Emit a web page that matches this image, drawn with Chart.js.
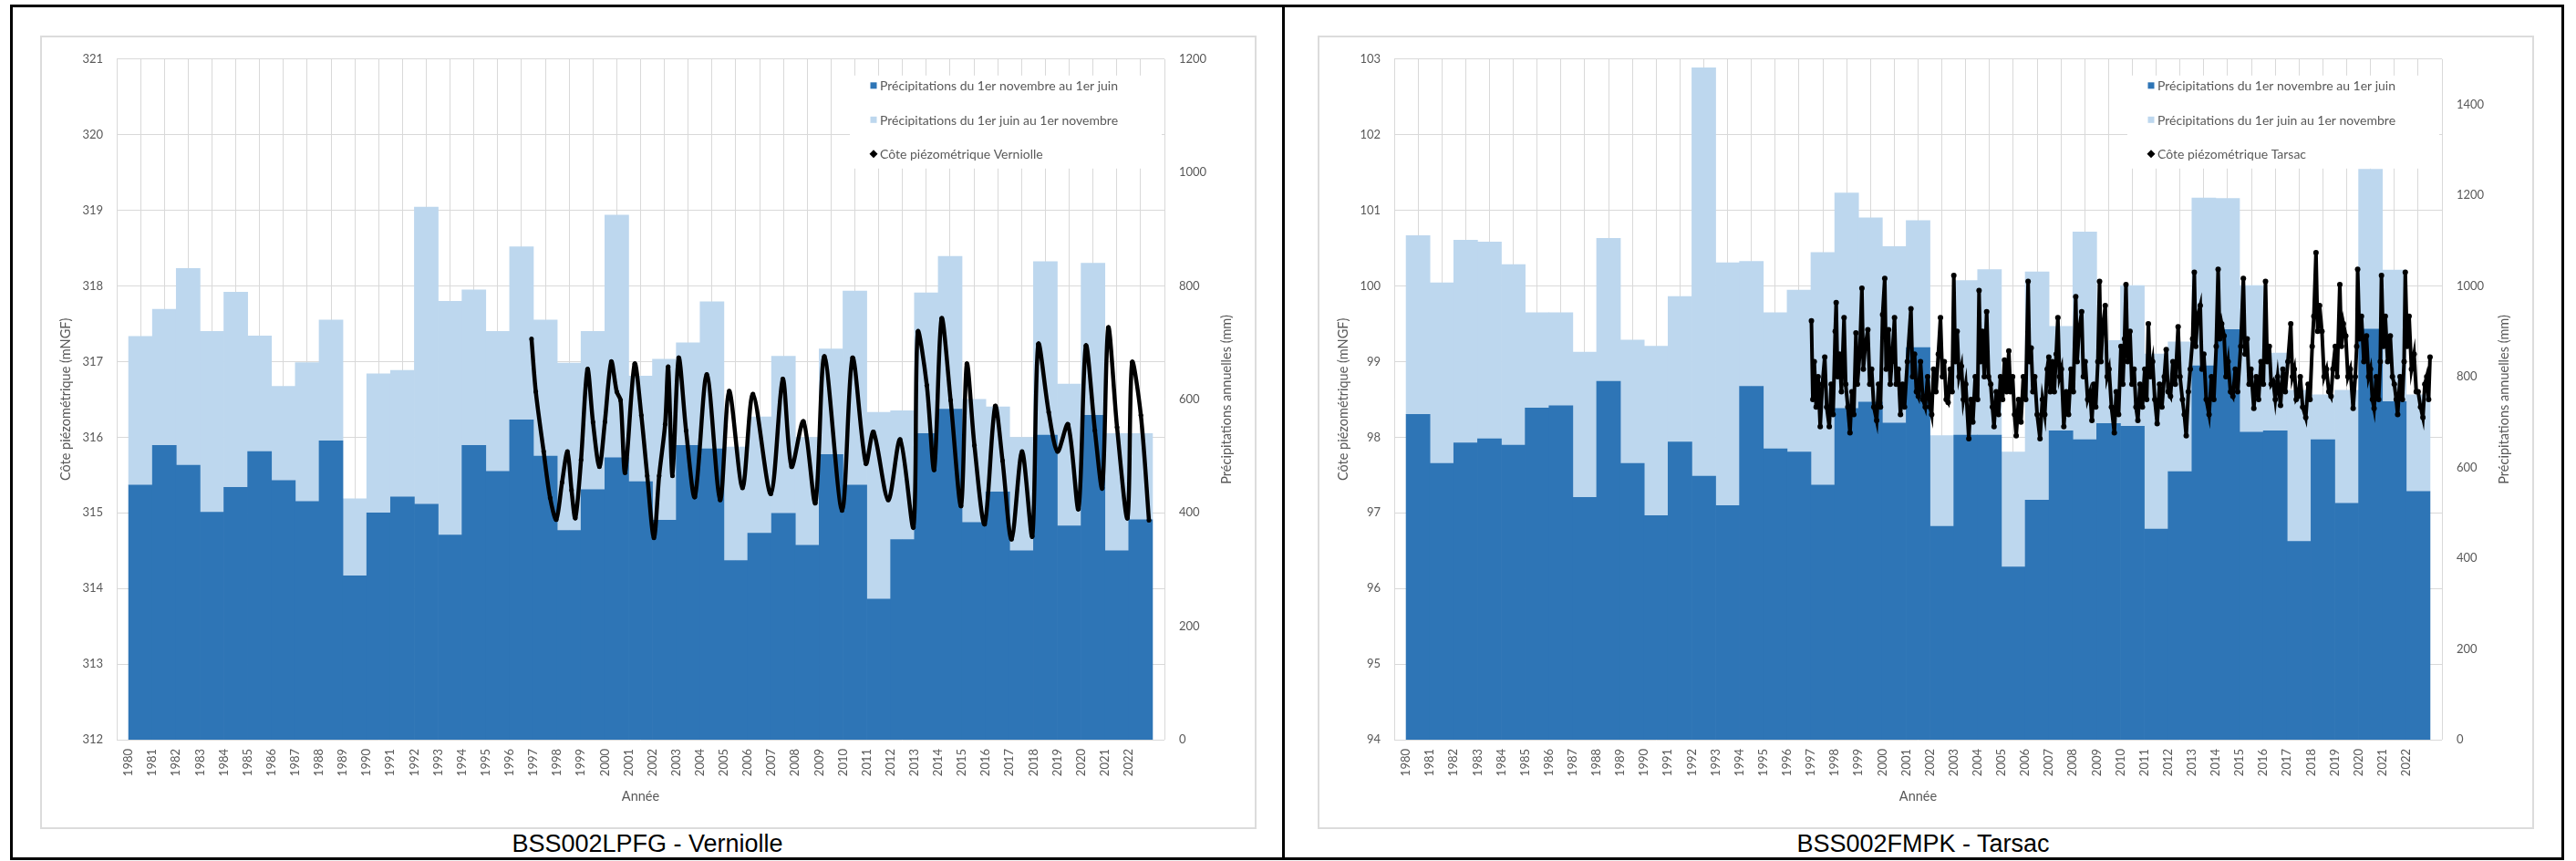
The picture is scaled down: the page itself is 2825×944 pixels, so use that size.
<!DOCTYPE html>
<html lang="fr">
<head>
<meta charset="utf-8">
<title>Précipitations et côte piézométrique</title>
<script src="https://cdn.jsdelivr.net/npm/chart.js@4.4.1/dist/chart.umd.min.js"></script>
<style>
  html, body { margin: 0; padding: 0; background: #fff; }
  body { width: 2825px; height: 944px; position: relative; overflow: hidden; }
  .outer { position: absolute; left: 11px; top: 5px; width: 2801px; height: 938px; border: 3px solid #000; box-sizing: border-box; }
  .divider { position: absolute; left: 1406px; top: 5px; width: 3px; height: 938px; background: #000; }
  .frame { position: absolute; top: 39px; width: 1334px; height: 870px; border: 2px solid #dcdcdc; box-sizing: border-box; background: #fff; }
  .frame canvas { position: absolute; left: 0; top: 0; filter: blur(0.6px); }
  .cap { position: absolute; top: 912px; font: 27px "Liberation Sans", Arial, sans-serif; line-height: 27px; text-align: center; color: #000; }
</style>
</head>
<body>
<div class="outer"></div>
<div class="divider"></div>
<div class="frame" style="left:44px"><canvas id="verniolle" width="1330" height="866"></canvas></div>
<div class="frame" style="left:1445px"><canvas id="tarsac" width="1330" height="866"></canvas></div>
<div class="cap" style="left:14px;width:1392px">BSS002LPFG - Verniolle</div>
<div class="cap" style="left:1409px;width:1400px">BSS002FMPK - Tarsac</div>

<script>
// hydrological years shown on the x axis
const years = [1980, 1981, 1982, 1983, 1984, 1985, 1986, 1987, 1988, 1989,
  1990, 1991, 1992, 1993, 1994, 1995, 1996, 1997, 1998, 1999,
  2000, 2001, 2002, 2003, 2004, 2005, 2006, 2007, 2008, 2009,
  2010, 2011, 2012, 2013, 2014, 2015, 2016, 2017, 2018, 2019,
  2020, 2021, 2022];

// Verniolle rainfall (mm): 1 Nov -> 1 Jun, then 1 Jun -> 1 Nov
const vernNovJun = [449, 519, 484, 401, 445, 508, 457, 420, 527, 289,
  400, 428, 415, 361, 519, 473, 564, 500, 369, 441,
  497, 455, 387, 519, 513, 316, 364, 399, 343, 503,
  449, 248, 353, 540, 583, 383, 437, 333, 537, 377,
  572, 333, 388];
const vernJunNov = [262, 240, 347, 319, 344, 204, 166, 245, 213, 136,
  245, 223, 524, 412, 274, 247, 305, 240, 295, 279,
  428, 186, 284, 181, 259, 200, 205, 277, 190, 186,
  342, 329, 227, 248, 269, 217, 150, 200, 306, 250,
  268, 207, 152];

// Tarsac rainfall (mm)
const tarsNovJun = [717, 609, 654, 663, 649, 731, 736, 534, 790, 609,
  494, 656, 581, 516, 779, 641, 634, 561, 730, 744,
  698, 864, 470, 671, 671, 381, 528, 681, 661, 697,
  691, 464, 591, 824, 904, 678, 681, 437, 661, 521,
  905, 745, 547];
const tarsJunNov = [394, 398, 447, 434, 398, 210, 205, 320, 315, 272,
  373, 321, 900, 535, 275, 300, 357, 513, 475, 406,
  389, 280, 200, 341, 365, 253, 503, 230, 458, 183,
  310, 386, 286, 370, 289, 323, 171, 333, 99, 249,
  352, 290, 213];

// piezometric level (m NGF) : [decimal date, level]
const vernPiezo = [
  [1996.92, 317.30], [1997.10, 316.60], [1997.43, 315.81], [1997.70, 315.20], [1997.96, 314.91],
  [1998.20, 315.40], [1998.43, 315.81], [1998.60, 315.30], [1998.76, 314.93], [1999.00, 315.70],
  [1999.27, 316.90], [1999.50, 316.20], [1999.77, 315.61], [2000.00, 316.20], [2000.27, 317.00],
  [2000.50, 316.60], [2000.66, 316.49], [2000.85, 315.53], [2001.25, 316.97], [2001.53, 316.29],
  [2001.78, 315.49], [2002.06, 314.67], [2002.28, 315.49], [2002.53, 316.17], [2002.66, 316.93],
  [2002.84, 315.49], [2003.10, 317.05], [2003.41, 316.09], [2003.78, 315.21], [2004.28, 316.83],
  [2004.84, 315.17], [2005.22, 316.61], [2005.78, 315.33], [2006.22, 316.57], [2006.97, 315.25],
  [2007.47, 316.77], [2007.84, 315.61], [2008.34, 316.21], [2008.84, 315.13], [2009.22, 317.07],
  [2009.96, 315.03], [2010.40, 317.05], [2010.96, 315.65], [2011.28, 316.07], [2011.90, 315.17],
  [2012.40, 315.97], [2012.96, 314.81], [2013.14, 317.39], [2013.52, 316.69], [2013.83, 315.57],
  [2014.14, 317.57], [2014.52, 316.49], [2014.96, 315.09], [2015.20, 316.97], [2015.52, 315.89],
  [2015.95, 314.85], [2016.39, 316.41], [2016.70, 315.69], [2017.08, 314.65], [2017.52, 315.81],
  [2017.95, 314.69], [2018.20, 317.23], [2018.64, 316.33], [2019.01, 315.81], [2019.45, 316.17],
  [2019.89, 315.05], [2020.20, 317.21], [2020.58, 316.09], [2020.89, 315.33], [2021.14, 317.45],
  [2021.51, 316.13], [2021.95, 314.93], [2022.14, 316.99], [2022.51, 316.29], [2022.85, 314.90]
];

const tarsPiezo = [
  [1997.02, 99.54], [1997.08, 98.50], [1997.14, 99.00], [1997.22, 98.40], [1997.30, 98.80], [1997.39, 98.14],
  [1997.48, 98.70], [1997.58, 99.06], [1997.66, 98.40], [1997.77, 98.14], [1997.85, 98.70], [1997.93, 98.30],
  [1998.02, 99.40], [1998.06, 99.78], [1998.12, 98.80], [1998.20, 99.10], [1998.28, 98.60], [1998.39, 99.58],
  [1998.46, 98.70], [1998.55, 98.40], [1998.64, 98.06], [1998.72, 98.60], [1998.80, 98.30], [1998.89, 99.38],
  [1998.95, 98.70], [1999.05, 99.10], [1999.14, 99.97], [1999.20, 98.90], [1999.28, 99.20], [1999.39, 99.42],
  [1999.47, 98.70], [1999.55, 98.90], [1999.64, 98.40], [1999.76, 98.22], [1999.84, 98.70], [1999.92, 98.40],
  [2000.01, 99.62], [2000.10, 100.10], [2000.16, 98.90], [2000.26, 99.42], [2000.33, 98.70], [2000.40, 99.00],
  [2000.51, 99.58], [2000.58, 98.70], [2000.67, 98.90], [2000.76, 98.30], [2000.85, 98.70], [2000.93, 98.40],
  [2001.05, 99.00], [2001.20, 99.70], [2001.27, 98.80], [2001.35, 99.10], [2001.43, 98.60], [2001.51, 98.54],
  [2001.60, 99.00], [2001.70, 98.50], [2001.80, 98.40], [2001.90, 98.80], [2002.00, 98.40], [2002.07, 98.30],
  [2002.15, 98.90], [2002.25, 98.60], [2002.35, 99.10], [2002.44, 99.58], [2002.52, 98.80], [2002.60, 99.00],
  [2002.68, 98.50], [2002.76, 98.46], [2002.85, 98.90], [2002.93, 98.60], [2003.00, 100.14], [2003.06, 99.00],
  [2003.14, 99.40], [2003.22, 98.80], [2003.32, 98.94], [2003.40, 98.50], [2003.50, 98.70], [2003.63, 97.98],
  [2003.72, 98.50], [2003.80, 98.20], [2003.90, 98.80], [2004.00, 98.50], [2004.06, 99.94], [2004.12, 99.00],
  [2004.20, 99.40], [2004.28, 98.80], [2004.38, 99.66], [2004.46, 98.80], [2004.55, 98.70], [2004.62, 98.40],
  [2004.69, 98.14], [2004.78, 98.60], [2004.88, 98.30], [2004.96, 98.80], [2005.05, 98.50], [2005.13, 99.02],
  [2005.22, 98.60], [2005.31, 99.14], [2005.38, 98.60], [2005.47, 98.80], [2005.55, 98.30], [2005.62, 98.02],
  [2005.72, 98.50], [2005.82, 98.20], [2005.92, 98.80], [2006.02, 98.50], [2006.12, 100.06], [2006.18, 99.00],
  [2006.25, 99.18], [2006.32, 98.60], [2006.40, 98.80], [2006.50, 98.30], [2006.62, 97.98], [2006.72, 98.50],
  [2006.82, 98.30], [2006.92, 98.90], [2006.99, 99.06], [2007.05, 98.60], [2007.13, 99.00], [2007.22, 98.60],
  [2007.30, 99.10], [2007.37, 99.58], [2007.44, 98.80], [2007.52, 98.90], [2007.62, 98.14], [2007.72, 98.60],
  [2007.82, 98.30], [2007.92, 98.90], [2008.02, 98.60], [2008.12, 99.86], [2008.18, 99.00], [2008.26, 99.42],
  [2008.37, 99.66], [2008.44, 98.80], [2008.52, 99.00], [2008.62, 98.50], [2008.72, 98.60], [2008.80, 98.22],
  [2008.88, 98.70], [2008.96, 98.40], [2009.05, 99.00], [2009.12, 100.06], [2009.18, 99.00], [2009.25, 99.42],
  [2009.36, 99.74], [2009.44, 98.80], [2009.52, 98.90], [2009.62, 98.40], [2009.74, 98.06], [2009.82, 98.60],
  [2009.92, 98.30], [2010.02, 99.20], [2010.10, 98.70], [2010.17, 99.30], [2010.23, 100.02], [2010.30, 99.00],
  [2010.40, 99.40], [2010.48, 98.70], [2010.57, 98.90], [2010.65, 98.40], [2010.73, 98.22], [2010.82, 98.70],
  [2010.92, 98.40], [2011.02, 98.90], [2011.10, 98.50], [2011.17, 99.50], [2011.25, 98.80], [2011.35, 99.00],
  [2011.44, 98.50], [2011.54, 98.18], [2011.64, 98.70], [2011.74, 98.40], [2011.84, 98.80], [2011.92, 99.16],
  [2012.00, 98.60], [2012.10, 98.54], [2012.20, 99.00], [2012.30, 98.70], [2012.42, 99.46], [2012.50, 98.80],
  [2012.60, 98.50], [2012.68, 98.30], [2012.76, 98.02], [2012.85, 98.60], [2012.93, 98.90], [2013.03, 99.30],
  [2013.10, 100.18], [2013.16, 99.20], [2013.24, 99.60], [2013.35, 99.74], [2013.42, 98.90], [2013.50, 99.10],
  [2013.60, 98.50], [2013.72, 98.30], [2013.82, 98.80], [2013.92, 98.50], [2014.02, 99.20], [2014.10, 100.22],
  [2014.17, 99.30], [2014.25, 99.50], [2014.35, 99.34], [2014.43, 98.80], [2014.52, 99.00], [2014.62, 98.60],
  [2014.72, 98.54], [2014.82, 98.90], [2014.92, 98.60], [2015.05, 99.20], [2015.16, 100.10], [2015.23, 99.10],
  [2015.32, 99.30], [2015.40, 98.70], [2015.48, 98.90], [2015.60, 98.38], [2015.70, 98.80], [2015.80, 98.50],
  [2015.90, 99.00], [2016.00, 98.70], [2016.09, 100.06], [2016.16, 99.00], [2016.25, 99.20], [2016.33, 98.70],
  [2016.41, 98.74], [2016.50, 98.50], [2016.60, 98.80], [2016.72, 98.42], [2016.82, 98.90], [2016.92, 98.60],
  [2017.03, 99.00], [2017.15, 99.50], [2017.22, 98.80], [2017.30, 98.90], [2017.38, 98.50], [2017.47, 98.54],
  [2017.55, 98.80], [2017.65, 98.40], [2017.78, 98.26], [2017.88, 98.70], [2017.96, 98.50], [2018.05, 99.20],
  [2018.12, 99.60], [2018.21, 100.44], [2018.28, 99.40], [2018.36, 99.74], [2018.46, 99.40], [2018.55, 98.80],
  [2018.65, 98.90], [2018.75, 98.60], [2018.84, 98.54], [2018.92, 98.90], [2019.02, 99.20], [2019.10, 98.80],
  [2019.21, 100.02], [2019.28, 99.20], [2019.36, 99.50], [2019.46, 99.34], [2019.55, 98.80], [2019.65, 98.90],
  [2019.77, 98.38], [2019.86, 98.80], [2019.92, 99.20], [2019.96, 100.22], [2020.04, 99.30], [2020.12, 99.60],
  [2020.22, 99.00], [2020.33, 99.34], [2020.42, 98.80], [2020.50, 98.90], [2020.58, 98.50], [2020.65, 98.38],
  [2020.74, 98.80], [2020.84, 98.50], [2020.91, 99.00], [2020.96, 100.14], [2021.04, 99.20], [2021.12, 99.60],
  [2021.22, 99.00], [2021.33, 99.34], [2021.42, 98.80], [2021.50, 98.70], [2021.58, 98.50], [2021.64, 98.30],
  [2021.74, 98.80], [2021.84, 98.50], [2021.91, 99.00], [2021.96, 100.18], [2022.04, 99.20], [2022.12, 99.60],
  [2022.22, 98.90], [2022.33, 99.10], [2022.42, 98.60], [2022.50, 98.60], [2022.60, 98.40], [2022.70, 98.26],
  [2022.78, 98.70], [2022.86, 98.80], [2022.94, 98.50], [2023.00, 99.06]
];

const DARK = '#2e75b6';
const LIGHT = '#bdd7ee';
const TXT = '#595959';
const GRID = '#d9d9d9';
const FONT = 'Lato, "Liberation Sans", Arial, sans-serif';

// axis titles + legend box drawn inside the plot, Excel style
const decor = {
  id: 'decor',
  afterDraw(chart, args, o) {
    const { ctx, chartArea: a } = chart;
    const midY = (a.top + a.bottom) / 2;
    ctx.save();
    ctx.fillStyle = TXT;
    ctx.font = '14.5px ' + FONT;
    ctx.textAlign = 'center';
    ctx.textBaseline = 'middle';

    ctx.save();
    ctx.translate(a.left - 56, midY);
    ctx.rotate(-Math.PI / 2);
    ctx.fillText(o.leftTitle, 0, 0);
    ctx.restore();

    ctx.save();
    ctx.translate(a.right + 68, midY);
    ctx.rotate(-Math.PI / 2);
    ctx.fillText(o.rightTitle, 0, 0);
    ctx.restore();

    ctx.fillText('Année', (a.left + a.right) / 2, a.bottom + 62);

    // legend
    const lx = a.right - 345, ly = a.top + 18;
    ctx.fillStyle = '#fff';
    ctx.fillRect(lx, ly, 342, 102);
    ctx.font = '14px ' + FONT;
    ctx.textAlign = 'left';
    chart.data.datasets.forEach((ds, i) => {
      const cy = ly + 11 + i * 37.5;
      const mx = lx + 26;
      ctx.fillStyle = ds.type === 'bar' ? ds.backgroundColor : '#000';
      if (ds.type === 'bar') {
        ctx.fillRect(mx - 3.5, cy - 3.5, 7, 7);
      } else {
        ctx.beginPath();
        ctx.moveTo(mx, cy - 4.5);
        ctx.lineTo(mx + 4.5, cy);
        ctx.lineTo(mx, cy + 4.5);
        ctx.lineTo(mx - 4.5, cy);
        ctx.closePath();
        ctx.fill();
      }
      ctx.fillStyle = TXT;
      ctx.fillText(ds.label, lx + 33, cy + 1);
    });
    ctx.restore();
  }
};

function tickFont() {
  return { family: FONT, size: 13 };
}

function buildChart(id, st) {
  return new Chart(document.getElementById(id), {
    data: {
      datasets: [
        {
          type: 'bar',
          label: 'Précipitations du 1er novembre au 1er juin',
          data: years.map((y, i) => ({ x: y + 0.5, y: st.novJun[i] })),
          backgroundColor: DARK,
          yAxisID: 'yP',
          stack: 'pluie',
          barPercentage: 1,
          categoryPercentage: 1,
          borderWidth: 0,
          order: 2
        },
        {
          type: 'bar',
          label: 'Précipitations du 1er juin au 1er novembre',
          data: years.map((y, i) => ({ x: y + 0.5, y: st.junNov[i] })),
          backgroundColor: LIGHT,
          yAxisID: 'yP',
          stack: 'pluie',
          barPercentage: 1,
          categoryPercentage: 1,
          borderWidth: 0,
          order: 2
        },
        {
          type: 'scatter',
          label: 'Côte piézométrique ' + st.name,
          data: st.piezo.map(p => ({ x: p[0], y: p[1] })),
          yAxisID: 'yL',
          showLine: true,
          borderColor: '#000',
          backgroundColor: '#000',
          borderWidth: st.lineWidth,
          pointRadius: st.pointRadius,
          pointBorderWidth: 0,
          tension: st.tension,
          order: 1
        }
      ]
    },
    options: {
      responsive: false,
      animation: false,
      events: [],
      layout: { padding: { top: 21, left: 0, right: 0, bottom: 0 } },
      plugins: {
        legend: { display: false },
        tooltip: { enabled: false },
        decor: {
          leftTitle: 'Côte piézométrique (mNGF)',
          rightTitle: 'Précipitations annuelles (mm)'
        }
      },
      scales: {
        x: {
          type: 'linear',
          position: 'bottom',
          min: 1980,
          max: 2023,
          ticks: {
            stepSize: 1,
            maxTicksLimit: 100,
            autoSkip: false,
            minRotation: 90,
            maxRotation: 90,
            padding: 10,
            color: TXT,
            font: tickFont(),
            callback: v => (v < 2023 ? String(v) : '')
          },
          grid: { color: GRID, drawTicks: false },
          border: { display: false },
          afterFit: sc => { sc.height = 96; }
        },
        yL: {
          type: 'linear',
          position: 'left',
          min: st.lmin,
          max: st.lmax,
          ticks: { stepSize: 1, padding: 15, color: TXT, font: tickFont(), callback: v => String(v) },
          grid: { color: GRID, drawTicks: false },
          border: { display: false },
          afterFit: sc => { sc.width = 82; }
        },
        yP: {
          type: 'linear',
          position: 'right',
          min: 0,
          max: st.pmax,
          stacked: true,
          ticks: { stepSize: 200, includeBounds: false, padding: 16, color: TXT, font: tickFont(), callback: v => String(v) },
          grid: { display: false, drawTicks: false },
          border: { display: false },
          afterFit: sc => { sc.width = 99; }
        }
      }
    },
    plugins: [decor]
  });
}

buildChart('verniolle', {
  name: 'Verniolle',
  novJun: vernNovJun,
  junNov: vernJunNov,
  piezo: vernPiezo,
  lmin: 312, lmax: 321, pmax: 1200,
  lineWidth: 4.5, pointRadius: 2.5, tension: 0.3
});

buildChart('tarsac', {
  name: 'Tarsac',
  novJun: tarsNovJun,
  junNov: tarsJunNov,
  piezo: tarsPiezo,
  lmin: 94, lmax: 103, pmax: 1500,
  lineWidth: 4, pointRadius: 3, tension: 0
});
</script>
</body>
</html>
